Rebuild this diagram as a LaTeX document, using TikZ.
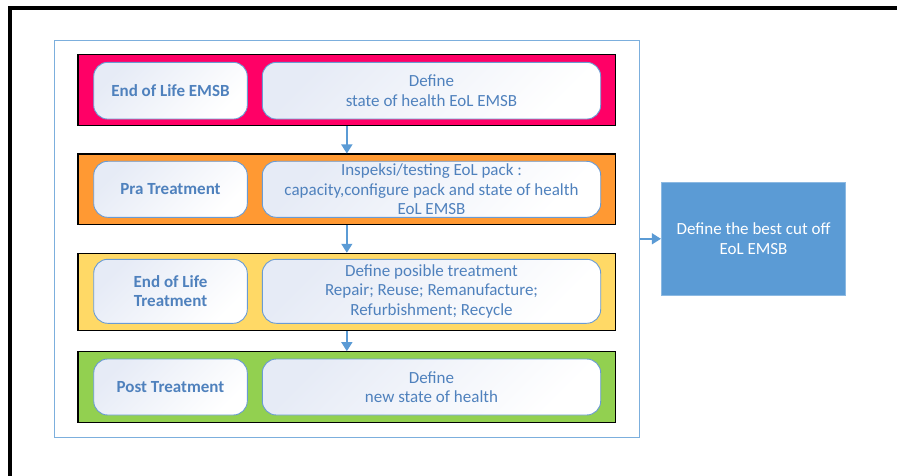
\documentclass[tikz,border=0pt]{standalone}
\usepackage{fontspec}
\setmainfont{Carlito}
\usepackage{xcolor}
\usepackage{tikz}
\usetikzlibrary{arrows.meta,positioning,fit,backgrounds}

\definecolor{stagePink}{HTML}{FF0066}
\definecolor{stageOrange}{HTML}{FF9933}
\definecolor{stageYellow}{HTML}{FFD966}
\definecolor{stageGreen}{HTML}{92D050}
\definecolor{boxBlue}{HTML}{5B9BD5}
\definecolor{boxLine}{HTML}{6A9BD3}
\definecolor{boxText}{HTML}{4F81BD}
\definecolor{boxTint}{HTML}{E6EBF6}

\begin{document}
\begin{tikzpicture}[x=1pt, y=-1pt,
    font=\fontsize{17}{19.5}\selectfont,
    band/.style={draw=black, fill=#1, line width=1.1pt, minimum width=537.7pt,
                 minimum height=71pt, inner sep=0pt},
    phase/.style={draw=boxLine, line width=0.9pt, rounded corners=14pt,
                  top color=boxTint, bottom color=white, shading angle=45,
                  text=boxText, align=center, inner sep=2pt},
    label/.style={phase, font=\fontsize{17}{19.5}\selectfont\bfseries,
                  minimum width=153.6pt},
    task/.style={phase, minimum width=338.4pt},
    flowarrow/.style={-{Triangle[length=9pt,width=11pt]}, draw=boxBlue, line width=1.4pt}
]
\useasboundingbox (0,0) rectangle (897,476);

% page frame (left and top only)
\draw[line width=3.5pt] (10,476) -- (10,8) -- (897,8);

% stage bands
\node[band=stagePink] (bandEol) at (346.85,90.4) {};
\node[band=stageOrange, minimum height=70.3pt] (bandPra) at (346.85,189.2) {};
\node[band=stageYellow, minimum height=77pt] (bandTreat) at (346.85,291.8) {};
\node[band=stageGreen] (bandPost) at (346.85,387.2) {};

% labels and tasks inside each band
\node[label, minimum height=56.7pt] (eolLabel) at (170.5,90.7) {End of Life EMSB};
\node[task, minimum height=56.7pt] (eolTask) at (431.5,90.7) {Define\\state of health EoL EMSB};

\node[label, minimum height=56pt] (praLabel) at (170.5,189.3) {Pra Treatment};
\node[task, minimum height=56pt] (praTask) at (431.5,189.3)
    {Inspeksi/testing EoL pack :\\capacity,configure pack and state of health\\EoL EMSB};

\node[label, minimum height=64pt] (treatLabel) at (170.5,291.3) {End of Life\\Treatment};
\node[task, minimum height=64pt] (treatTask) at (431.5,291.3)
    {Define posible treatment\\Repair; Reuse; Remanufacture;\\Refurbishment; Recycle};

\node[label, minimum height=56pt] (postLabel) at (170.5,387) {Post Treatment};
\node[task, minimum height=56pt] (postTask) at (431.5,387) {Define\\new state of health};

\draw[flowarrow] (bandEol.south) -- (bandPra.north);
\draw[flowarrow] (bandPra.south) -- (bandTreat.north);
\draw[flowarrow] (bandTreat.south) -- (bandPost.north);

% frame round the four stages
\begin{scope}[on background layer]
    \node[draw=boxBlue!80, line width=1pt, fit=(bandEol)(bandPost),
          inner xsep=23pt, inner ysep=14pt] (stages) {};
\end{scope}

\node[fill=boxBlue, draw=boxBlue!70!white, line width=0.8pt, text=white, align=center,
      minimum width=184.4pt, minimum height=113pt] (cutoff) at (753.5,238.8)
    {Define the best cut off\\EoL EMSB};
\draw[flowarrow] (stages.east) -- (cutoff.west);

\end{tikzpicture}
\end{document}
